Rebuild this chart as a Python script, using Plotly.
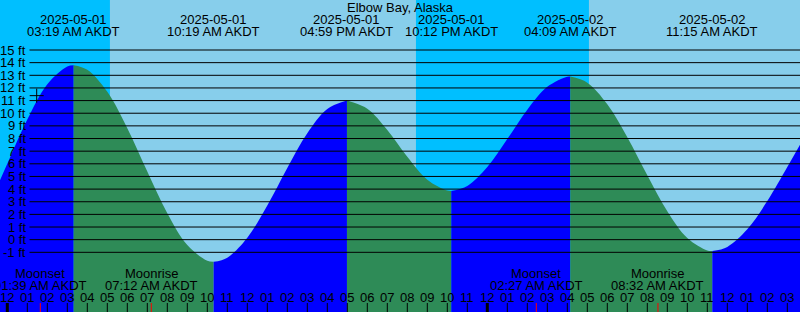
import plotly.graph_objects as go

# ---------------- data ----------------
station = "Elbow Bay, Alaska"
# hours since 2025-05-01 00:00 AKDT
tide_t = [-0.365, 0, 1, 2, 3, 3.317, 4, 5, 6, 7, 8, 9, 10, 10.317, 11, 12, 13, 14, 15, 16,
          16.983, 18, 19, 20, 21, 22, 22.2, 23, 24, 25, 26, 27, 28, 28.15, 29, 30, 31, 32,
          33, 34, 35, 35.25, 36, 37, 38, 39, 39.635]
tide_h = [4.7, 6.0, 9.5, 12.3, 13.7, 13.8, 13.44, 11.69, 8.82, 5.39, 2.09, -0.43, -1.67, -1.75,
          -1.42, 0.15, 2.70, 5.67, 8.41, 10.33, 11.0, 10.35, 8.67, 6.55, 4.74, 3.88, 3.85,
          4.25, 5.74, 7.96, 10.28, 12.09, 12.89, 12.9, 12.42, 10.71, 8.10, 5.09, 2.25, 0.13,
          -0.86, -0.9, -0.57, 0.82, 3.05, 5.74, 7.5]

event_t = [3.317, 10.317, 16.983, 22.2, 28.15, 35.25]
event_dates = ["2025-05-01", "2025-05-01", "2025-05-01", "2025-05-01", "2025-05-02", "2025-05-02"]
event_times = ["03:19 AM AKDT", "10:19 AM AKDT", "04:59 PM AKDT", "10:12 PM AKDT",
               "04:09 AM AKDT", "11:15 AM AKDT"]

sun_t = [5.133, 20.433, 29.083]          # sunrise, sunset, sunrise
moon_t = [1.65, 7.2, 26.45, 32.533]
moon_names = ["Moonset", "Moonrise", "Moonset", "Moonrise"]
moon_times = ["01:39 AM AKDT", "07:12 AM AKDT", "02:27 AM AKDT", "08:32 AM AKDT"]

hour_ticks = list(range(0, 40))
hour_labels = ["12", "01", "02", "03", "04", "05", "06", "07", "08", "09", "10", "11",
               "12", "01", "02", "03", "04", "05", "06", "07", "08", "09", "10", "11",
               "12", "01", "02", "03", "04", "05", "06", "07", "08", "09", "10", "11",
               "12", "01", "02", "03"]
midnights = [0, 24]
ft_levels = list(range(-1, 16))
now_t, now_h = 1.47, 11.39

# ---------------- styling ----------------
W, H = 800, 312
X0, X1 = -0.365, 39.635
Y0, Y1 = -5.72, 18.955
FONT = "Liberation Sans"
FS = 13
C_NIGHT, C_DAY = "#00BFFF", "#87CEEB"
C_RISE, C_FALL = "#0000FF", "#2E8B57"

def py(p):  # pixel from top -> paper
    return 1 - p / H

fig = go.Figure()

# tide fill segments
bounds = [X0] + event_t + [X1]
for i in range(len(bounds) - 1):
    a, b = bounds[i], bounds[i + 1]
    xs = [t for t in tide_t if a - 1e-9 <= t <= b + 1e-9]
    ys = [h for t, h in zip(tide_t, tide_h) if a - 1e-9 <= t <= b + 1e-9]
    col = C_RISE if i % 2 == 0 else C_FALL
    fig.add_trace(go.Scatter(x=[a, b], y=[Y0 - 1, Y0 - 1], mode="lines",
                             line=dict(width=0), hoverinfo="skip", showlegend=False))
    fig.add_trace(go.Scatter(x=xs, y=ys, mode="lines", line=dict(width=0, shape="spline", color=col),
                             fill="tonexty", fillcolor=col, hoverinfo="skip", showlegend=False))

fig.add_trace(go.Scatter(x=[now_t], y=[now_h], mode="markers",
                         marker=dict(symbol="cross-thin", size=10, line=dict(color="black", width=1)),
                         hoverinfo="skip", showlegend=False))

shapes = []
# sky background
sky_b = [X0] + sun_t + [X1]
for i in range(len(sky_b) - 1):
    shapes.append(dict(type="rect", xref="x", yref="paper", x0=sky_b[i], x1=sky_b[i + 1], y0=0, y1=1,
                       fillcolor=C_NIGHT if i % 2 == 0 else C_DAY, line=dict(width=0), layer="below"))
# grid lines
for lv in ft_levels:
    shapes.append(dict(type="line", xref="paper", yref="y", x0=29.5 / W, x1=1, y0=lv, y1=lv,
                       line=dict(color="black", width=1), layer="above"))
# hour ticks
for t in hour_ticks:
    shapes.append(dict(type="line", xref="x", yref="paper", x0=t, x1=t, y0=0, y1=9 / H,
                       line=dict(color="black", width=3 if t in midnights else 1), layer="above"))
for t in moon_t:
    shapes.append(dict(type="line", xref="x", yref="paper", x0=t, x1=t, y0=0, y1=9 / H,
                       line=dict(color="red", width=1), layer="above"))

ann = []
def txt(x, xref, y, s, xanchor="center"):
    ann.append(dict(x=x, xref=xref, y=y, yref="paper", text=s, showarrow=False,
                    xanchor=xanchor, yanchor="middle", font=dict(family=FONT, size=FS, color="black")))

txt(0.5, "paper", py(7.5), station)
for t, d, s in zip(event_t, event_dates, event_times):
    txt(t, "x", py(19.5), d)
    txt(t, "x", py(31.5), s)
for t, n, s in zip(moon_t, moon_names, moon_times):
    txt(t, "x", py(273), n)
    txt(t, "x", py(285.5), s)
for t, lab in zip(hour_ticks, hour_labels):
    txt(t, "x", py(297.7), lab)
for lv in ft_levels:
    ann.append(dict(x=27.5 / W, xref="paper", y=lv, yref="y", text=f"{lv} ft", showarrow=False,
                    xanchor="right", yanchor="middle", font=dict(family=FONT, size=FS, color="black")))

fig.update_layout(width=W, height=H, margin=dict(l=0, r=0, t=0, b=0),
                  paper_bgcolor=C_DAY, plot_bgcolor=C_DAY,
                  xaxis=dict(range=[X0, X1], visible=False, fixedrange=True),
                  yaxis=dict(range=[Y0, Y1], visible=False, fixedrange=True),
                  shapes=shapes, annotations=ann, showlegend=False)

fig.write_html("out.html")
